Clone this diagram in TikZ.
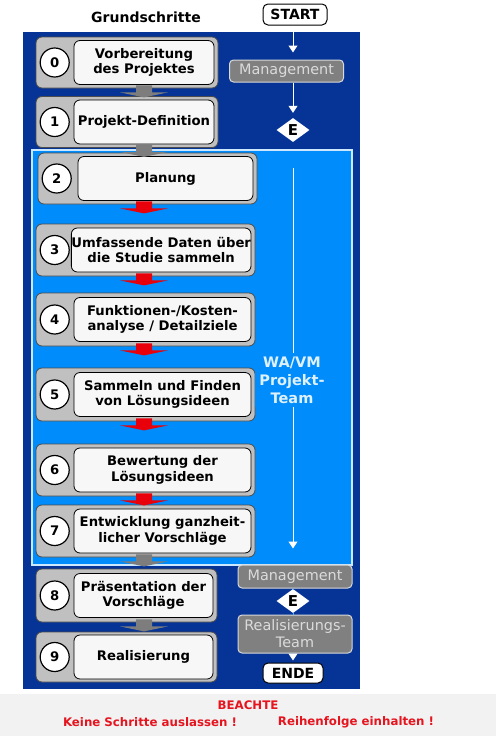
\documentclass[tikz,border=0pt]{standalone}
\usepackage{fontspec}
\setmainfont{DejaVu Sans}
\usetikzlibrary{shapes.geometric,arrows.meta,positioning}
\definecolor{darkpanel}{RGB}{5,52,150}
\definecolor{teampanel}{RGB}{0,140,250}
\definecolor{boxgray}{RGB}{192,192,192}
\definecolor{rolegray}{RGB}{128,128,128}
\definecolor{flowgray}{RGB}{125,125,125}
\definecolor{flowred}{RGB}{232,0,10}
\definecolor{notered}{RGB}{230,20,30}
\newcommand{\stepfont}{\fontsize{13.2}{15.5}\selectfont\bfseries}
\newcommand{\rolefont}{\fontsize{14.4}{17}\selectfont}
\newcommand{\teamfont}{\fontsize{14.5}{18}\selectfont\bfseries}
\newcommand{\notefont}{\fontsize{11.8}{14}\selectfont\bfseries}
\tikzset{
    %Define standard arrow tip
    >={Triangle[width=9pt,length=7pt]},
    %Define style for the gray step frames
    stepback/.style={
           rectangle,
           rounded corners=6pt,
           draw=black!70,
           fill=boxgray,
           line width=0.8pt,
           minimum height=51pt},
    %Define style for the step texts
    stepbox/.style={
           rectangle,
           rounded corners=6pt,
           draw=black,
           fill=white!97!black,
           line width=0.8pt,
           minimum height=44pt,
           inner xsep=0pt,
           align=center,
           font=\stepfont},
    stepnum/.style={
           circle,
           draw=black,
           fill=white,
           line width=1.2pt,
           minimum size=29pt,
           inner sep=0pt,
           font=\stepfont},
    %Define style for the roles on the right
    rolebox/.style={
           rectangle,
           rounded corners=4pt,
           draw=white!85!black,
           fill=rolegray,
           line width=1pt,
           minimum width=114pt,
           inner sep=1pt,
           text=white!86!black,
           align=center,
           font=\rolefont},
    terminal/.style={
           rectangle,
           rounded corners=5pt,
           draw=black,
           fill=white,
           line width=1pt,
           inner sep=1pt,
           font=\fontsize{14}{16}\selectfont\bfseries},
    decision/.style={
           diamond,
           fill=white,
           minimum width=33pt,
           minimum height=24pt,
           inner sep=0pt,
           font=\fontsize{15}{16}\selectfont\bfseries},
    % Define arrow styles
    flowline/.style={
           ->,
           white,
           line width=1pt},
    linkline/.style={
           line width=0.8pt,
           draw=teampanel!70!white},
    blockarrow/.pic={
           \path[pic actions] (-8,-3) -- (8,-3) -- (8,4) -- (24,4) -- (0,9) -- (-24,4) -- (-8,4) -- cycle;
           }
}
\begin{document}
\begin{tikzpicture}[x=1pt, y=-1pt, node distance=4pt]
    \useasboundingbox (0,0) rectangle (496,736);
    % panels
    \fill[black!5] (0,694) rectangle (496,736);
    \fill[darkpanel] (23,32) rectangle (360,689);
    \draw[fill=teampanel, draw=white!80!teampanel, line width=1.2pt] (32,150) rectangle (352,565);

    \node [font=\fontsize{14}{16}\selectfont\bfseries] (title) at (146,17) {Grundschritte};

    % steps
    \node [stepback, minimum width=182pt] (o0) at (127,62.5) {};
    \node [stepbox, minimum width=140pt, left=of o0.east] (t0) {Vorbereitung\\des Projektes};
    \node [stepnum, right=of o0.west] (n0) {0};

    \node [stepback, minimum width=182pt] (o1) at (127,122) {};
    \node [stepbox, minimum width=140pt, left=of o1.east] (t1) {Projekt-Definition};
    \node [stepnum, right=of o1.west] (n1) {1};

    \node [stepback, minimum width=219pt] (o2) at (147.5,178.5) {};
    \node [stepbox, minimum width=175pt, left=of o2.east] (t2) {Planung};
    \node [stepnum, right=of o2.west] (n2) {2};

    \node [stepback, minimum width=219pt, minimum height=52pt] (o3) at (145.5,250) {};
    \node [stepbox, minimum width=177pt, left=of o3.east] (t3) {Umfassende Daten über\\die Studie sammeln};
    \node [stepnum, right=of o3.west] (n3) {3};

    \node [stepback, minimum width=219pt, minimum height=53pt] (o4) at (145.5,319.5) {};
    \node [stepbox, minimum width=177pt, left=of o4.east] (t4) {Funktionen-/Kosten-\\analyse / Detailziele};
    \node [stepnum, right=of o4.west] (n4) {4};

    \node [stepback, minimum width=219pt, minimum height=53pt] (o5) at (145.5,394.5) {};
    \node [stepbox, minimum width=177pt, left=of o5.east] (t5) {Sammeln und Finden\\von Lösungsideen};
    \node [stepnum, right=of o5.west] (n5) {5};

    \node [stepback, minimum width=219pt, minimum height=52pt] (o6) at (145.5,470) {};
    \node [stepbox, minimum width=177pt, left=of o6.east] (t6) {Bewertung der\\Lösungsideen};
    \node [stepnum, right=of o6.west] (n6) {6};

    \node [stepback, minimum width=219pt, minimum height=52pt] (o7) at (145.5,531) {};
    \node [stepbox, minimum width=177pt, left=of o7.east] (t7) {Entwicklung ganzheit-\\licher Vorschläge};
    \node [stepnum, right=of o7.west] (n7) {7};

    \node [stepback, minimum width=181pt, minimum height=53pt] (o8) at (126.5,595.5) {};
    \node [stepbox, minimum width=139pt, left=of o8.east] (t8) {Präsentation der\\Vorschläge};
    \node [stepnum, right=of o8.west] (n8) {8};

    \node [stepback, minimum width=181pt, minimum height=50pt] (o9) at (126.5,657) {};
    \node [stepbox, minimum width=139pt, left=of o9.east] (t9) {Realisierung};
    \node [stepnum, right=of o9.west] (n9) {9};

    % arrows between the steps
    \coordinate (ax) at (144,0);
    \pic [fill=flowgray] at (o0.south -| ax) {blockarrow};
    \pic [fill=flowgray] at (o1.south -| ax) {blockarrow};
    \pic [fill=flowred] at (o2.south -| ax) {blockarrow};
    \pic [fill=flowred] at (o3.south -| ax) {blockarrow};
    \pic [fill=flowred] at (o4.south -| ax) {blockarrow};
    \pic [fill=flowred] at (o5.south -| ax) {blockarrow};
    \pic [fill=flowred] at (o6.south -| ax) {blockarrow};
    \pic [fill=flowgray] at (o7.south -| ax) {blockarrow};
    \pic [fill=flowgray] at (o8.south -| ax) {blockarrow};

    % right column
    \node [terminal, minimum width=64pt, minimum height=21pt] (start) at (295,14.5) {START};
    \node [rolebox, minimum height=22pt] (mgmt1) at (286.5,71) {Management};
    \node [decision] (e1) at (293,130) {E};
    \node [rolebox, minimum height=23pt] (mgmt2) at (295,576.5) {Management};
    \node [decision] (e2) at (293,601) {E};
    \node [rolebox, minimum height=38pt] (real) at (295,634) {Realisierungs-\\Team};
    \node [terminal, minimum width=60pt, minimum height=20pt] (ende) at (293,673) {ENDE};

    \draw [flowline, shorten >=7pt] (start.south -| e1) -- (mgmt1.north -| e1);
    \draw [flowline, shorten >=5pt] (mgmt1.south -| e1) -- (e1.north);
    \draw [flowline, shorten <=26pt, shorten >=16pt] (e1.south) -- (mgmt2.north -| e1);
    \draw [linkline] (mgmt2.south -| e2) -- (e2.north);
    \draw [linkline] (e2.south) -- (real.north -| e2);
    \draw [flowline, shorten >=2pt] (real.south -| ende) -- (ende.north);

    \node [font=\teamfont, text=white!88!teampanel, align=center, fill=teampanel, inner sep=4pt] (team) at (292,380) {WA/VM\\Projekt-\\Team};

    % note
    \node [font=\notefont, text=notered] (beachte) at (248,705) {BEACHTE};
    \node [font=\notefont, text=notered] (skip) at (150,722) {Keine Schritte auslassen !};
    \node [font=\notefont, text=notered] (order) at (356,722) {Reihenfolge einhalten !};
\end{tikzpicture}
\end{document}
